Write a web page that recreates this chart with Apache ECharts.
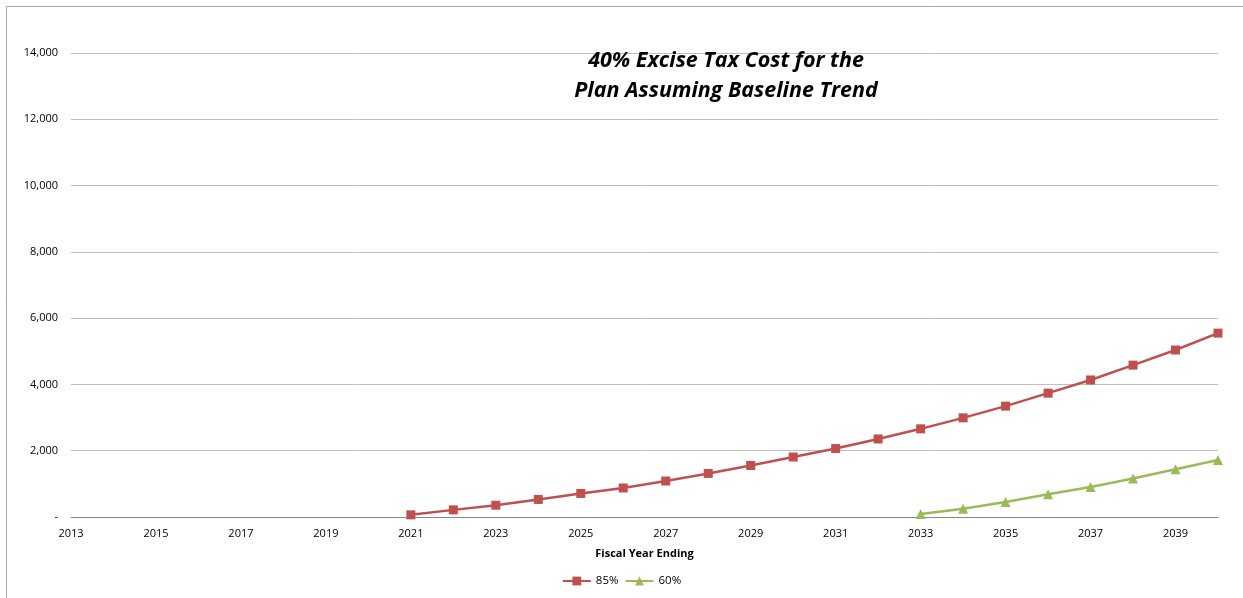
<!DOCTYPE html>
<html><head><meta charset="utf-8">
<script src="https://cdn.jsdelivr.net/npm/echarts@6/dist/echarts.min.js"></script>
<style>html,body{margin:0;padding:0;background:#fff}#c{width:1243px;height:598px}</style>
</head><body><div id="c"></div>
<script>
const years = ['2013','2014','2015','2016','2017','2018','2019','2020','2021','2022','2023','2024','2025','2026','2027','2028','2029','2030','2031','2032','2033','2034','2035','2036','2037','2038','2039','2040'];
const s85 = [null,null,null,null,null,null,null,null,65,215,355,530,710,875,1086,1315,1555,1810,2065,2354,2660,2992,3345,3737,4134,4582,5039,5548];
const s60 = [null,null,null,null,null,null,null,null,null,null,null,null,null,null,null,null,null,null,null,null,90,250,450,685,905,1160,1440,1720];
const titleLines = ['40% Excise Tax Cost for the','Plan Assuming Baseline Trend'];
const chart = echarts.init(document.getElementById('c'));
const font = 'Open Sans, Lato, sans-serif';
chart.setOption({
  animation:false,
  textStyle:{fontFamily:font},
  graphic:[{type:'rect',shape:{x:6.5,y:6.5,width:1300,height:700},style:{fill:'none',stroke:'#a6a6a6',lineWidth:1},silent:true}],
  title:{text:titleLines.join('\n'),left:721,top:41,textAlign:'center',
    textStyle:{fontFamily:font,fontSize:21.5,fontWeight:'bold',fontStyle:'italic',color:'#000',lineHeight:30}},
  grid:{left:71,right:25,top:53,bottom:81,containLabel:false},
  legend:{bottom:6,left:'center',itemWidth:28,itemHeight:11,itemGap:6,
    textStyle:{fontSize:11.5,color:'#000'},
    data:['85%','60%']},
  xAxis:{type:'category',data:years,boundaryGap:false,
    name:'Fiscal Year Ending',nameLocation:'middle',nameGap:31,
    nameTextStyle:{fontSize:11,fontWeight:'bold',color:'#000'},
    axisLine:{lineStyle:{color:'#868686',width:1}},axisTick:{show:false},
    axisLabel:{interval:1,fontSize:11,color:'#000',margin:11}},
  yAxis:{type:'value',min:0,max:14000,interval:2000,
    axisLine:{show:false},axisTick:{show:false},
    axisLabel:{fontSize:11,color:'#000',margin:13,formatter:v=>v===0?'-':v.toLocaleString('en-US')},
    splitLine:{lineStyle:{color:'#bfbfbf',width:1}}},
  series:[
    {name:'85%',type:'line',data:s85,symbol:'rect',symbolSize:9,color:'#C0504D',
     lineStyle:{width:2.5,color:'#C0504D'},itemStyle:{color:'#C0504D'}},
    {name:'60%',type:'line',data:s60,symbol:'triangle',symbolSize:10,color:'#9BBB59',
     lineStyle:{width:2.5,color:'#9BBB59'},itemStyle:{color:'#9BBB59'}}
  ]
});
</script></body></html>
